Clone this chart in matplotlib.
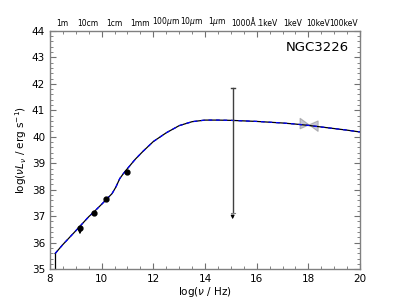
import matplotlib
matplotlib.use('Agg')
import matplotlib.pyplot as plt
import numpy as np

# model SED curve
model_lognu = [8.2, 8.5, 9.0, 9.5, 9.7, 10.0, 10.2, 10.4, 10.55, 10.7, 10.85, 11.0,
               11.3, 11.6, 12.0, 12.5, 13.0, 13.5, 14.0, 14.5, 15.0, 15.5,
               16.0, 16.5, 17.0, 17.5, 18.0, 18.5, 19.0, 19.5, 20.0]
model_lognuL = [35.59, 35.93, 36.45, 36.98, 37.16, 37.45, 37.65, 37.85, 38.1, 38.42, 38.62, 38.8,
                39.15, 39.45, 39.82, 40.15, 40.42, 40.57, 40.63, 40.63, 40.62, 40.6,
                40.58, 40.55, 40.52, 40.48, 40.43, 40.37, 40.31, 40.25, 40.18]

# photometry
pt_lognu = [9.70, 10.17, 10.97]
pt_lognuL = [37.13, 37.66, 38.67]

# upper limits
ul_lognu = [9.16]
ul_lognuL = [36.56]

# big error bar (upper limit)
eb_lognu = 15.07
eb_top = 41.85
eb_bot = 37.13
eb_arrow = 36.78

# X-ray bowtie
bow_lognu = [17.68, 18.38]
bow_hi = [40.70, 40.60]
bow_lo = [40.30, 40.20]

# top axis labels
top_labels = ['1m', '10cm', '1cm', '1mm', r'100$\mu$m', r'10$\mu$m', r'1$\mu$m',
              u'1000\u00c5', '.1keV', '1keV', '10keV', '100keV']
top_pos = [8.48, 9.48, 10.48, 11.48, 12.48, 13.48, 14.48, 15.48, 16.38, 17.38, 18.38, 19.38]

fig = plt.figure(figsize=(4, 3), dpi=100)
ax = fig.add_axes([0.125, 0.103, 0.775, 0.794])

# vertical start of the model
ax.plot([model_lognu[0], model_lognu[0]], [35, model_lognuL[0]], c='k', lw=0.9)
ax.plot(model_lognu, model_lognuL, c='k', lw=0.9)
ax.plot(model_lognu, model_lognuL, c='b', lw=0.9, ls=(0, (3, 3)))

ax.plot(pt_lognu, pt_lognuL, 'ko', ms=3.5)
ax.plot(ul_lognu, ul_lognuL, 'ko', ms=3.5)
for x, y in zip(ul_lognu, ul_lognuL):
    ax.annotate('', xy=(x, y - 0.35), xytext=(x, y),
                arrowprops=dict(arrowstyle='-|>', color='k', lw=0.8, mutation_scale=5))

ax.plot([eb_lognu, eb_lognu], [eb_bot, eb_top], c='#404040', lw=1)
ax.plot([eb_lognu - 0.08, eb_lognu + 0.08], [eb_top, eb_top], c='#404040', lw=1)
ax.plot([eb_lognu - 0.08, eb_lognu + 0.08], [eb_bot, eb_bot], c='#808080', lw=0.8)
ax.annotate('', xy=(eb_lognu, eb_arrow), xytext=(eb_lognu, eb_bot),
            arrowprops=dict(arrowstyle='-|>', color='k', lw=0.8, mutation_scale=5))

# bowtie
bx = [bow_lognu[0], bow_lognu[1], bow_lognu[1], bow_lognu[0]]
by = [bow_hi[0], bow_lo[1], bow_hi[1], bow_lo[0]]
ax.fill(bx, by, facecolor='#9090a8', edgecolor='#808080', alpha=0.5, lw=0.8)

ax.set_xlim(8, 20)
ax.set_ylim(35, 44)
ax.set_xticks(np.arange(8, 21, 2))
ax.set_xticks(np.arange(8, 20.01, 0.5), minor=True)
ax.set_yticks(np.arange(35, 45, 1))
ax.set_yticks(np.arange(35, 44.01, 0.2), minor=True)
ax.tick_params(which='both', direction='in', top=True, right=True, colors='#707070',
               labelcolor='k', labelsize=7.5)
ax.tick_params(which='major', length=4)
ax.tick_params(which='minor', length=2)
for s in ax.spines.values():
    s.set_color('#808080')
    s.set_linewidth(1)

ax.set_xlabel(r'log($\nu$ / Hz)', fontsize=7.5, labelpad=1)
ax.set_ylabel(r'log($\nu L_\nu$ / erg s$^{-1}$)', fontsize=7.5, labelpad=2)

ax.text(0.965, 0.93, 'NGC3226', transform=ax.transAxes, ha='right', va='center', fontsize=9.5)

for lab, pos in zip(top_labels, top_pos):
    ax.text(pos, 44.12, lab, ha='center', va='bottom', fontsize=5.5)

fig.savefig('out.png', dpi=100)
